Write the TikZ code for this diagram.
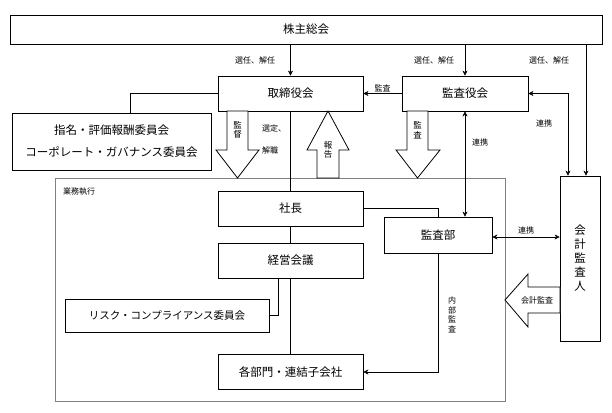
\documentclass[tikz,border=0pt]{standalone}
\usepackage{fontspec}
\setmainfont{Noto Sans CJK JP}
\usetikzlibrary{arrows.meta}
\begin{document}
\begin{tikzpicture}[
    x=1pt, y=-1pt,
    box/.style={draw, thick, minimum height=35pt, font=\fontsize{11.5}{13}\selectfont, inner sep=0pt},
    lbl/.style={font=\fontsize{8}{9}\selectfont, inner sep=1pt},
    vlbl/.style={font=\fontsize{8.5}{9.5}\selectfont, align=center, inner sep=0pt},
    link/.style={-{Stealth[length=5pt,width=5pt]}},
    both/.style={{Stealth[length=5pt,width=5pt]}-{Stealth[length=5pt,width=5pt]}},
    fat/.style={draw, thick, fill=white}
]
\useasboundingbox (0,0) rectangle (612,412);
% frame
\draw[gray] (55,178) rectangle (505,401);
\node[lbl, anchor=west] (gyomu) at (62,192) {業務執行};

% boxes
\node[box, minimum width=592pt, minimum height=29pt] (soukai) at (306,29.5) {株主総会};
\node[box, minimum width=145pt] (torishimari) at (290.5,93.5) {取締役会};
\node[box, minimum width=126pt] (kansayaku) at (465,93.5) {監査役会};
\node[box, minimum width=199pt, minimum height=57pt, align=center, font=\fontsize{11.5}{22}\selectfont] (iin) at (111.5,141.5) {指名・評価報酬委員会\\コーポレート・ガバナンス委員会};
\node[box, minimum width=145pt] (shacho) at (290.5,208.5) {社長};
\node[box, minimum width=108pt, minimum height=36pt] (kansabu) at (438,235) {監査部};
\node[box, minimum width=145pt] (keiei) at (290.5,260.5) {経営会議};
\node[box, minimum width=204pt, minimum height=33pt, font=\fontsize{10.5}{12}\selectfont] (risk) at (167,315.5) {リスク・コンプライアンス委員会};
\node[box, minimum width=145pt] (kakubu) at (290.5,372) {各部門・連結子会社};
\node[box, minimum width=40pt, minimum height=165pt, align=center, font=\fontsize{11.5}{14}\selectfont] (kaikei) at (580,258.5) {会\\計\\監\\査\\人};

% block arrows
\draw[fat] (227,111) -- (248,111) -- (248,150) -- (259,150) -- (237.5,178) -- (216,150) -- (227,150) -- cycle;
\node[vlbl] (kantoku) at (237.5,130) {監\\督};
\draw[fat] (317,178) -- (339,178) -- (339,150) -- (349,150) -- (328,111) -- (307,150) -- (317,150) -- cycle;
\node[vlbl] (houkoku) at (328,150) {報\\告};
\draw[fat] (407,111) -- (428,111) -- (428,150) -- (440,150) -- (417.5,178) -- (396,150) -- (407,150) -- cycle;
\node[vlbl] (kansa) at (417.5,130) {監\\査};
\draw[fat] (560,287) -- (528,287) -- (528,274) -- (505,300) -- (528,327) -- (528,313) -- (560,313) -- cycle;
\node[lbl] (kaikeikansa) at (537,300) {会計監査};

% connectors
\draw[link] (soukai.south -| torishimari) -- (torishimari.north);
\node[lbl] (sennin1) at (255,60) {選任、解任};
\draw[link] (soukai.south -| kansayaku) -- (kansayaku.north);
\node[lbl] (sennin2) at (434,60) {選任、解任};
\draw[link] (soukai.south -| 586,0) -- (kaikei.north -| 586,0);
\node[lbl] (sennin3) at (549,60) {選任、解任};
\draw[link] (kansayaku.west) -- (torishimari.east) node[lbl, midway, above] {監査};
\draw[both] (kansayaku.east) -| (kaikei.north -| 568,0);
\node[lbl] (renkei1) at (544,123) {連携};
\draw[both] (kansayaku.south) -- (kansabu.north -| kansayaku) node[lbl, pos=0.3, right=6pt] {連携};
\draw[both] (kansabu.east |- 0,237) -- (kaikei.west |- 0,237) node[lbl, midway, above=2pt] {連携};
\draw (torishimari.west) -| (iin.north -| 130,0);
\draw (torishimari.south) -- (shacho.north);
\node[lbl, align=left, anchor=west, font=\fontsize{8}{22}\selectfont] (sentei) at (261,139) {選定、\\解職};
\draw (shacho.south) -- (keiei.north);
\draw (keiei.south) -- (kakubu.north);
\draw (shacho.east) -| (kansabu.north -| 438,0);
\draw (keiei.south -| 278,0) |- (risk.east);
\draw[link] (kansabu.south) |- (kakubu.east);
\node[vlbl, font=\fontsize{8}{9.5}\selectfont] (naibu) at (452,315) {内\\部\\監\\査};
\end{tikzpicture}
\end{document}
